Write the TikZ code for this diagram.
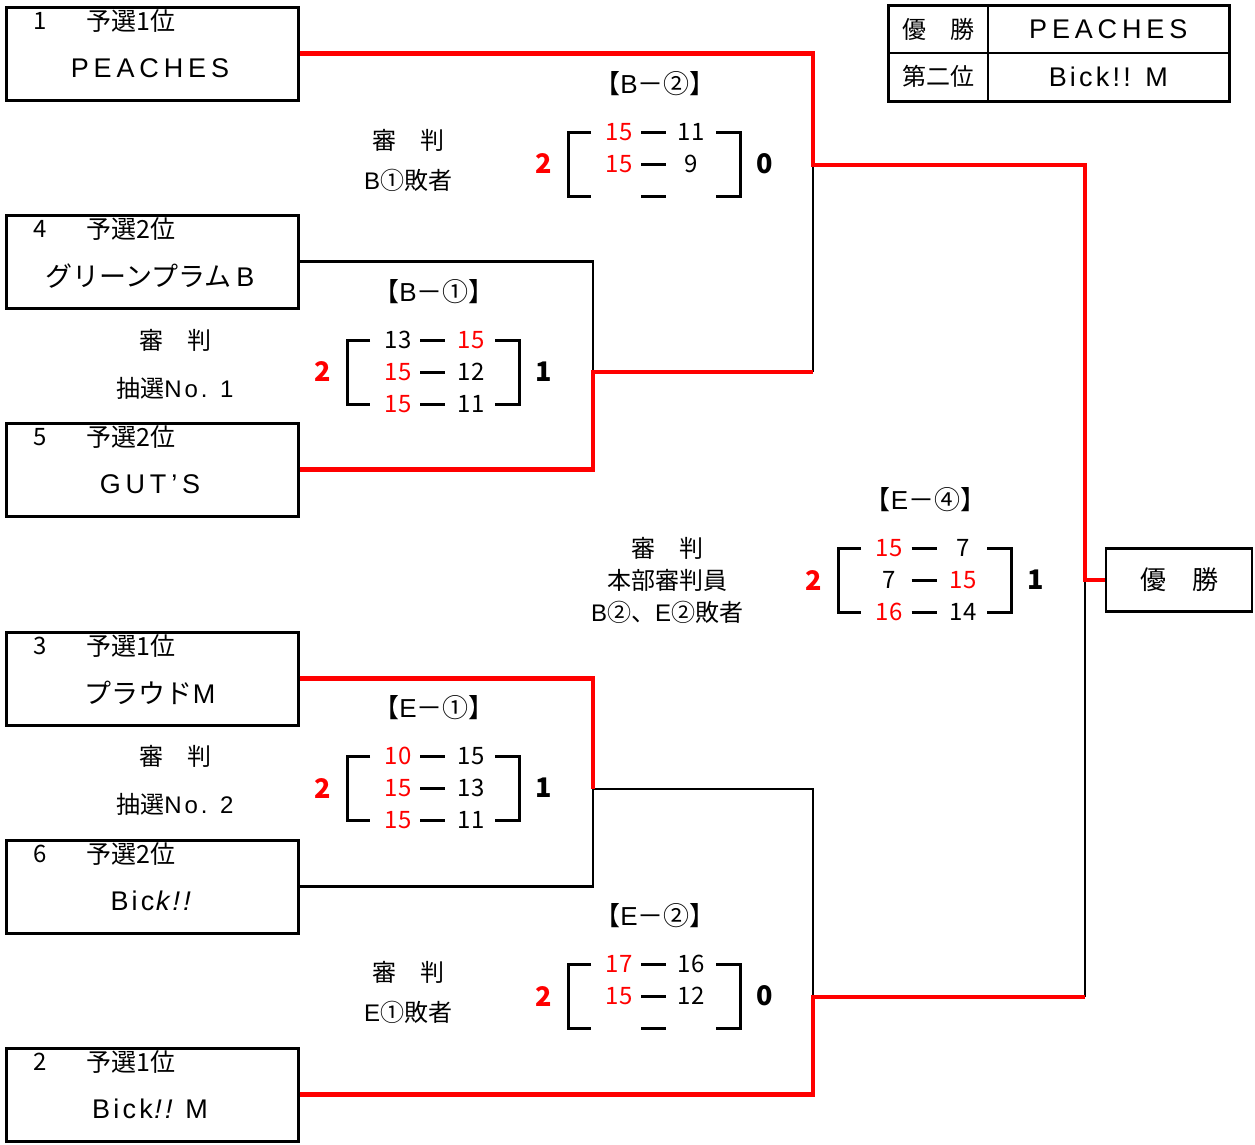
\documentclass[tikz,border=0pt]{standalone}
\usepackage{fontspec}
\setmainfont{Noto Sans CJK JP}
\newfontfamily\slantfont[FakeSlant=0.2, LetterSpace=12]{Liberation Sans}
\newfontfamily\wide[LetterSpace=18]{Liberation Sans}
\newfontfamily\lat[LetterSpace=12]{Liberation Sans}
\newfontfamily\plain{Liberation Sans}
\usetikzlibrary{positioning}
\newcommand{\win}[1]{\textcolor{red}{#1}}

\begin{document}
\begin{tikzpicture}[x=1pt, y=-1pt, font=\fontsize{24}{28}\selectfont]
    \tikzset{
      team/.style={draw, line width=3pt, minimum width=292pt, minimum height=93pt, inner sep=0pt, anchor=north west},
      lbl/.style={inner sep=0pt},
      big/.style={inner sep=0pt, font=\fontsize{27}{30}\selectfont},
      lose/.style={line width=2.5pt},
      won/.style={red, line width=4.5pt},
      bracket/.style={line width=3pt},
      total/.style={font=\fontsize{27}{30}\selectfont\bfseries, inner sep=0pt},
      cell/.style={draw, line width=1.5pt, inner sep=0pt, anchor=north west},
    }
    \useasboundingbox (0,0) rectangle (1255,1144);

    % teams
    \foreach \n/\y/\num/\rk/\nm in {t1/4/1/1/{\wide PEACHES}, t4/212/4/2/{グリーンプラム\,{\wide B}},
        t5/420/5/2/{\wide GUT’S}, t3/629/3/1/{プラウド{\wide M}},
        t6/837/6/2/{\lat Bic{\slantfont k!!}},
        t2/1045/2/1/{\lat Bick{\slantfont !!} M}} {
      \node [team] (\n) at (4.5,\y+1.5) {};
      \node [lbl] (\n-no) at (40,\y+17) {\num};
      \node [lbl, font=\fontsize{25}{28}\selectfont] (\n-rk) at (131,\y+17) {予選\rk 位};
      \node [big] (\n-nm) at (150,\y+64) {\nm};
    }
    \node [draw, line width=2.5pt, minimum width=146pt, minimum height=63pt,
      font=\fontsize{26}{30}\selectfont] (champ) at (1179,580) {優　勝};

    % results table
    \node [cell, minimum width=99pt, minimum height=47pt] (r1a) at (888,5) {優　勝};
    \node [cell, minimum width=241pt, minimum height=47pt, font=\fontsize{27}{30}\selectfont] (r1b) at (987,5) {\wide PEACHES};
    \node [cell, minimum width=99pt, minimum height=48pt] (r2a) at (888,52) {第二位};
    \node [cell, minimum width=241pt, minimum height=48pt, font=\fontsize{27}{30}\selectfont] (r2b) at (987,52)
      {\lat Bick!! M};
    \draw [line width=3pt] (r1a.north west) rectangle (r2b.south east);

    % junctions
    \coordinate (b1) at (593,372);
    \coordinate (b2) at (813,165);
    \coordinate (e1) at (593,789);
    \coordinate (e2) at (813,997);
    \coordinate (e4) at (1085,580);

    \draw [lose] (t4.east) -| (b1);
    \draw [lose] (t6.east) -| (e1);
    \draw [lose] (b2) -- (b2 |- b1);
    \draw [lose] (e1) -- (e1 -| e2) -- (e2);
    \draw [lose] (e2 -| e4) -- (e4);
    \draw [won] (t5.east) -| (b1) -- (b1 -| b2);
    \draw [won] (t3.east) -| (e1);
    \draw [won] (t2.east) -| (e2) -- (e2 -| e4);
    \draw [won] (t1.east) -| (b2) -| (e4) -- (champ.west);

    % score brackets
    \foreach \n/\l/\r/\t/\ttl/\lt/\rt in {B2/568/740/132/{\plain B}－②/2/0, B1/347/519/340/{\plain B}－①/2/1,
        E1/347/519/756/{\plain E}－①/2/1, E2/568/740/964/{\plain E}－②/2/0, E4/838/1011/548/{\plain E}－④/2/1} {
      \draw [bracket] (\l+23,\t) -- (\l,\t) -- (\l,\t+64) -- (\l+23,\t+64);
      \draw [bracket] (\r-24,\t) -- (\r,\t) -- (\r,\t+64) -- (\r-24,\t+64);
      \foreach \k in {0,32,64} \draw [bracket] ({(\l+\r)/2-13},\t+\k) -- ++(25,0);
      \node [font=\fontsize{26}{30}\selectfont] (\n-ttl) at ({(\l+\r)/2+1},\t-48) {【\ttl】};
      \node [total, red] (\n-lt) at (\l-24,\t+32) {\lt};
      \node [total] (\n-rt) at (\r+25,\t+32) {\rt};
    }
    \foreach \k/\a/\b in {0/\win{15}/11, 32/\win{15}/9} {
      \node (B2a\k) at (619,132+\k) {\a}; \node (B2b\k) at (691,132+\k) {\b};
    }
    \foreach \k/\a/\b in {0/13/\win{15}, 32/\win{15}/12, 64/\win{15}/11} {
      \node (B1a\k) at (398,340+\k) {\a}; \node (B1b\k) at (471,340+\k) {\b};
    }
    \foreach \k/\a/\b in {0/\win{10}/15, 32/\win{15}/13, 64/\win{15}/11} {
      \node (E1a\k) at (398,756+\k) {\a}; \node (E1b\k) at (471,756+\k) {\b};
    }
    \foreach \k/\a/\b in {0/\win{17}/16, 32/\win{15}/12} {
      \node (E2a\k) at (619,964+\k) {\a}; \node (E2b\k) at (691,964+\k) {\b};
    }
    \foreach \k/\a/\b in {0/\win{15}/7, 32/7/\win{15}, 64/\win{16}/14} {
      \node (E4a\k) at (889,548+\k) {\a}; \node (E4b\k) at (963,548+\k) {\b};
    }

    % referees
    \node (refB2) at (408,140) {審　判};
    \node (refB2b) at (408,180) {{\plain B}①敗者};
    \node (refB1) at (175,340) {審　判};
    \node (refB1b) at (175,388) {抽選{\lat No. 1}};
    \node (refE4) at (667,548) {審　判};
    \node (refE4b) at (667,580) {本部審判員};
    \node (refE4c) at (667,612) {{\plain B}②、{\plain E}②敗者};
    \node (refE1) at (175,756) {審　判};
    \node (refE1b) at (175,804) {抽選{\lat No. 2}};
    \node (refE2) at (408,972) {審　判};
    \node (refE2b) at (408,1012) {{\plain E}①敗者};

  \end{tikzpicture}
\end{document}
